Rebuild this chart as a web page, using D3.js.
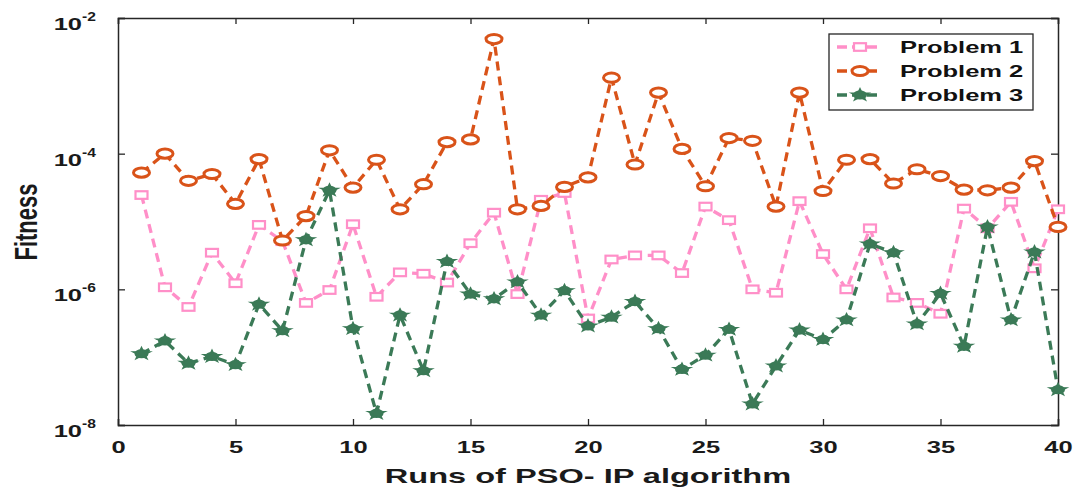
<!DOCTYPE html>
<html>
<head>
<meta charset="utf-8">
<script src="https://cdn.jsdelivr.net/npm/d3@7"></script>
<style>
  body { margin: 0; background: #fff; }
  text { font-family: "Liberation Sans", Arial, sans-serif; font-weight: bold; }
</style>
</head>
<body>
<svg width="1080" height="491"></svg>
<script>
// runs 1..40, values read as log10(fitness)
var runs = d3.range(1, 41);
var p1Log = [-4.61, -5.97, -6.26, -5.46, -5.91, -5.05, -5.29, -6.20, -6.01, -5.04,
             -6.11, -5.75, -5.77, -5.90, -5.32, -4.87, -6.07, -4.68, -4.58, -6.43,
             -5.56, -5.50, -5.50, -5.76, -4.78, -4.98, -6.00, -6.05, -4.70, -5.48,
             -6.00, -5.10, -6.12, -6.20, -6.36, -4.81, -5.10, -4.71, -5.69, -4.82];
var p2Log = [-4.28, -4.00, -4.40, -4.30, -4.74, -4.08, -5.28, -4.92, -3.95, -4.50,
             -4.09, -4.82, -4.45, -3.83, -3.79, -2.31, -4.82, -4.77, -4.49, -4.35,
             -2.88, -4.16, -3.10, -3.93, -4.48, -3.77, -3.81, -4.78, -3.10, -4.55,
             -4.09, -4.08, -4.44, -4.23, -4.33, -4.53, -4.54, -4.50, -4.11, -5.08];
var p3Log = [-6.95, -6.76, -7.09, -6.99, -7.11, -6.22, -6.61, -5.27, -4.54, -6.58,
             -7.83, -6.38, -7.20, -5.59, -6.07, -6.14, -5.89, -6.38, -6.02, -6.54,
             -6.41, -6.18, -6.58, -7.18, -6.97, -6.59, -7.69, -7.13, -6.60, -6.74,
             -6.45, -5.33, -5.46, -6.51, -6.06, -6.84, -5.08, -6.45, -5.45, -7.48];
var seriesNames = ["Problem 1", "Problem 2", "Problem 3"];
var xTicks = [0, 5, 10, 15, 20, 25, 30, 35, 40];
var yTicks = [1e-8, 1e-6, 1e-4, 1e-2];

var colors = ["#ff8fc8", "#d95319", "#3b7a57"];
var shapes = ["square", "circle", "star"];

var svg = d3.select("svg");
var margin = { top: 18, right: 22, bottom: 66, left: 118 };
var width = 1080 - margin.left - margin.right;
var height = 491 - margin.top - margin.bottom;

// the original picture is stretched sideways, so text is widened too
var STRETCH = 1.5;
function widen(sel, k) {
    sel.each(function () {
        var w = this.getComputedTextLength();
        d3.select(this).attr("textLength", w * (k || STRETCH)).attr("lengthAdjust", "spacingAndGlyphs");
    });
}

var g = svg.append("g")
    .attr("transform", `translate(${margin.left},${margin.top})`);

var x = d3.scaleLinear().domain([0, 40]).range([0, width]);
var y = d3.scaleLog().domain([1e-8, 1e-2]).range([height, 0]);

var series = [p1Log, p2Log, p3Log].map(function (arr, i) {
    return {
        name: seriesNames[i],
        color: colors[i],
        shape: shapes[i],
        values: arr.map(function (v, j) { return { run: runs[j], val: Math.pow(10, v) }; })
    };
});

// axes (box with inward ticks)
var xAxis = g.append("g")
    .attr("transform", `translate(0,${height})`)
    .call(d3.axisBottom(x).tickValues(xTicks).tickSize(-6).tickPadding(28));
var xTop = g.append("g")
    .call(d3.axisTop(x).tickValues(xTicks).tickSize(-6).tickFormat(""));
var yAxis = g.append("g")
    .call(d3.axisLeft(y).tickValues(yTicks).tickSize(-7).tickFormat(""));
var yRight = g.append("g")
    .attr("transform", `translate(${width},0)`)
    .call(d3.axisRight(y).tickValues(yTicks).tickSize(-7).tickFormat(""));

[xAxis, xTop, yAxis, yRight].forEach(function (a) {
    a.select(".domain").attr("stroke", "#262626").attr("stroke-width", 1.5);
    a.selectAll(".tick line").attr("stroke", "#262626").attr("stroke-width", 1.3);
});
xAxis.selectAll(".tick text")
    .attr("dy", 0)
    .style("font-size", "17px").attr("fill", "#1a1a1a")
    .call(widen);

// y tick labels: 10 with raised exponent
yTicks.forEach(function (t) {
    var e = Math.round(Math.log10(t));
    g.append("text")
        .attr("x", -36).attr("y", y(t) + 12)
        .attr("text-anchor", "end")
        .attr("fill", "#1a1a1a")
        .style("font-size", "17px")
        .text("10")
        .call(widen);
    g.append("text")
        .attr("x", -36).attr("y", y(t) + 3)
        .attr("fill", "#1a1a1a")
        .style("font-size", "12px")
        .text("-" + Math.abs(e))
        .call(widen, 1.3);
});

// axis titles
svg.append("text")
    .attr("x", margin.left + width / 2).attr("y", 483)
    .attr("text-anchor", "middle")
    .attr("fill", "#1a1a1a")
    .style("font-size", "21px")
    .text("Runs of PSO- IP algorithm")
    .call(widen, 1.55);
svg.append("text")
    .attr("transform", `translate(37,222) scale(1.45,1) rotate(-90)`)
    .attr("text-anchor", "middle")
    .attr("fill", "#1a1a1a")
    .style("font-size", "22px")
    .text("Fitness");

var line = d3.line()
    .x(function (d) { return x(d.run); })
    .y(function (d) { return y(d.val); });

function drawMarker(sel, shape, color) {
    if (shape === "square") {
        sel.append("rect")
            .attr("x", -6).attr("y", -3.8).attr("width", 12).attr("height", 7.6)
            .attr("fill", "#fff").attr("stroke", color).attr("stroke-width", 2.2);
    } else if (shape === "circle") {
        sel.append("ellipse").attr("rx", 8).attr("ry", 4.6)
            .attr("fill", "#fff").attr("stroke", color).attr("stroke-width", 3);
    } else {
        sel.append("ellipse").attr("rx", 7).attr("ry", 4.6).attr("fill", color);
        sel.append("path")
            .attr("d", d3.symbol().type(d3.symbolStar).size(45))
            .attr("transform", "scale(1.5,1)")
            .attr("fill", color).attr("stroke", color).attr("stroke-width", 1);
    }
}

series.forEach(function (s) {
    var sg = g.append("g");
    sg.append("path")
        .datum(s.values)
        .attr("d", line)
        .attr("fill", "none")
        .attr("stroke", s.color)
        .attr("stroke-width", 3.3)
        .attr("stroke-dasharray", "9,6");
    sg.selectAll("g.pt")
        .data(s.values)
        .enter().append("g")
        .attr("class", "pt")
        .attr("transform", function (d) { return `translate(${x(d.run)},${y(d.val)})`; })
        .each(function () { drawMarker(d3.select(this), s.shape, s.color); });
});

// legend
var lg = svg.append("g").attr("transform", "translate(829,34)");
lg.append("rect")
    .attr("width", 204).attr("height", 76)
    .attr("fill", "#fff").attr("stroke", "#262626").attr("stroke-width", 1.3);
series.forEach(function (s, i) {
    var row = lg.append("g").attr("transform", `translate(0,${13 + i * 24})`);
    row.append("line")
        .attr("x1", 8).attr("x2", 53)
        .attr("stroke", s.color).attr("stroke-width", 3.3)
        .attr("stroke-dasharray", "10,5");
    var m = row.append("g").attr("transform", "translate(31,0)");
    drawMarker(m, s.shape, s.color);
    row.append("text")
        .attr("x", 71).attr("y", 6)
        .attr("fill", "#111")
        .style("font-size", "17px")
        .text(s.name)
        .call(widen, 1.5);
});
</script>
</body>
</html>
